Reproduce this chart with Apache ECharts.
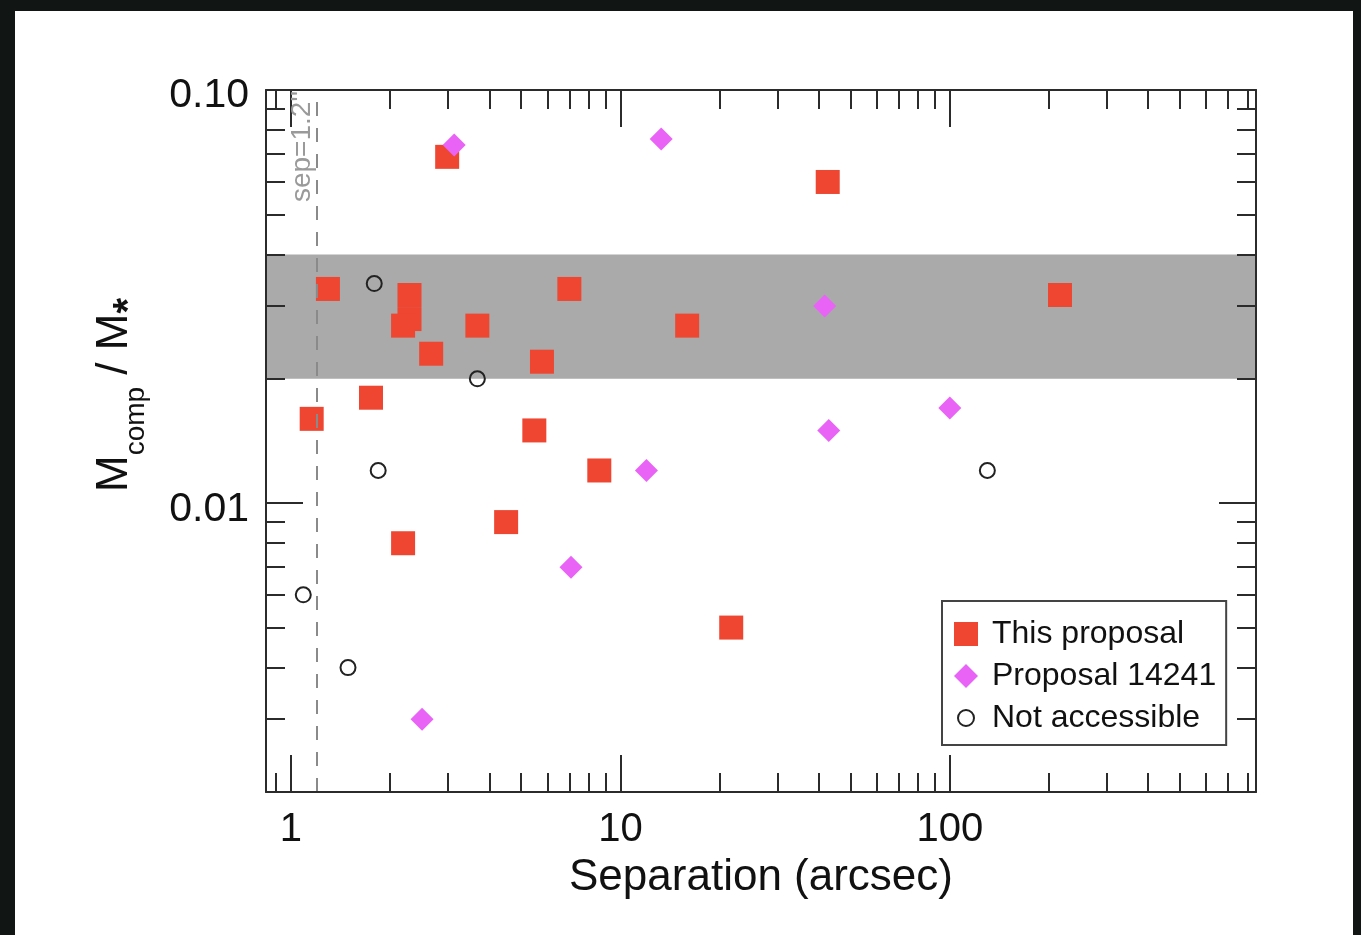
<!DOCTYPE html>
<html>
<head>
<meta charset="utf-8">
<script src="https://cdn.jsdelivr.net/npm/echarts@6/dist/echarts.min.js"></script>
<style>
  html, body { margin: 0; padding: 0; background: #111614; width: 1361px; height: 935px; overflow: hidden; }
  #chart { position: absolute; left: 15px; top: 11px; width: 1338px; height: 924px; background: #fff; }
</style>
</head>
<body>
<div id="chart"></div>
<script>
// data
const thisSep = [2.98, 42.6, 1.295, 2.29, 2.29, 2.19, 3.68, 2.665, 5.78, 7.0, 15.95, 216, 1.75, 1.156, 5.48, 8.63, 4.50, 2.19, 21.7]
const thisMass = [0.0689, 0.0599, 0.0330, 0.0319, 0.0279, 0.0269, 0.0269, 0.0230, 0.0220, 0.0330, 0.0269, 0.0319, 0.0180, 0.0160, 0.0150, 0.0120, 0.0090, 0.0080, 0.0050]

const propSep = [3.13, 13.3, 41.7, 100, 42.9, 12.0, 7.08, 2.50]
const propMass = [0.0736, 0.0761, 0.0300, 0.0170, 0.0150, 0.0120, 0.0070, 0.0030]

const naSep = [1.79, 3.68, 1.84, 130, 1.09, 1.49]
const naMass = [0.0340, 0.0200, 0.0120, 0.0120, 0.0060, 0.0040]

const bandRange = [0.02, 0.04]
const sepLimit = 1.2

const xMajor = [1, 10, 100]
const xMinor = [0.9, 2, 3, 4, 5, 6, 7, 8, 9, 20, 30, 40, 50, 60, 70, 80, 90, 200, 300, 400, 500, 600, 700, 800]
const yMajor = [0.01, 0.1]
const yMinor = [0.002, 0.003, 0.004, 0.005, 0.006, 0.007, 0.008, 0.009, 0.02, 0.03, 0.04, 0.05, 0.06, 0.07, 0.08, 0.09]

const xRange = [0.84, 850]
const yRange = [0.002, 0.1]

const FONT = '"Liberation Sans", Arial, Helvetica, sans-serif'
const AXIS_COLOR = '#2b2b2b'

const pairs = (xs, ys) => xs.map((x, i) => [x, ys[i]])

// one axis instance per side and tick length
const makeAxis = (dim, position, ticks, len, withLine, labels) => {
  const range = dim === 'x' ? xRange : yRange
  return {
    type: 'log',
    logBase: 10,
    position: position,
    min: range[0],
    max: range[1],
    z: 5,
    splitLine: { show: false },
    minorTick: { show: false },
    axisLine: { show: withLine, onZero: false, lineStyle: { color: AXIS_COLOR, width: 2 } },
    axisTick: {
      show: true,
      inside: true,
      length: len,
      customValues: ticks,
      lineStyle: { color: AXIS_COLOR, width: 2 }
    },
    axisLabel: labels
      ? Object.assign({ show: true, fontFamily: FONT, color: '#111' }, labels)
      : { show: false }
  }
}

const chart = echarts.init(document.getElementById('chart'))

const option = {
  backgroundColor: '#fff',
  animation: false,
  grid: { left: 251, right: 97, top: 79, bottom: 143 },
  xAxis: [
    Object.assign(makeAxis('x', 'bottom', xMajor, 37, true, {
      customValues: xMajor,
      fontSize: 40,
      margin: 18,
      formatter: v => String(Math.round(v))
    }), {
      name: 'Separation (arcsec)',
      nameLocation: 'middle',
      nameGap: 64,
      nameTextStyle: { fontFamily: FONT, fontSize: 44, color: '#111' }
    }),
    makeAxis('x', 'bottom', xMinor, 19, false),
    makeAxis('x', 'top', xMajor, 37, true),
    makeAxis('x', 'top', xMinor, 19, false)
  ],
  yAxis: [
    Object.assign(makeAxis('y', 'left', yMajor, 37, true, {
      customValues: yMajor,
      fontSize: 41,
      margin: 17,
      verticalAlign: 'top',
      lineHeight: 12,
      formatter: v => v.toFixed(2)
    }), {
      name: 'M{sub|comp} / M{ast|*}',
      nameLocation: 'middle',
      nameRotate: 90,
      nameGap: 116,
      nameTextStyle: {
        fontFamily: FONT,
        fontSize: 44,
        lineHeight: 70,
        color: '#111',
        padding: [0, 0, 0, 92],
        rich: {
          sub: { fontFamily: FONT, fontSize: 28, color: '#111', verticalAlign: 'bottom', lineHeight: 30 },
          ast: { fontFamily: FONT, fontSize: 40, fontWeight: 'bold', color: '#111', verticalAlign: 'bottom', lineHeight: 40 }
        }
      }
    }),
    makeAxis('y', 'left', yMinor, 19, false),
    makeAxis('y', 'right', yMajor, 37, true),
    makeAxis('y', 'right', yMinor, 19, false)
  ],
  legend: {
    orient: 'vertical',
    left: 927,
    top: 590,
    padding: [17, 10, 11, 11],
    itemGap: 10,
    itemWidth: 24,
    itemHeight: 24,
    backgroundColor: '#fff',
    borderColor: '#444',
    borderWidth: 2,
    borderRadius: 0,
    textStyle: { fontFamily: FONT, fontSize: 32, color: '#111', lineHeight: 30, padding: [0, 0, 0, 9] },
    data: [
      { name: 'This proposal', icon: 'rect' },
      { name: 'Proposal 14241', icon: 'diamond' },
      { name: 'Not accessible', icon: 'path://M0,0M24,24M20,12A8,8,0,1,1,4,12A8,8,0,1,1,20,12Z' }
    ]
  },
  series: [
    {
      // shaded band and the separation limit
      name: 'guides',
      type: 'scatter',
      data: [],
      z: 1,
      silent: true,
      markArea: {
        silent: true,
        itemStyle: { color: '#aaaaaa', opacity: 1 },
        data: [[{ yAxis: bandRange[0] }, { yAxis: bandRange[1] }]]
      },
      markLine: {
        silent: true,
        symbol: ['none', 'none'],
        lineStyle: { color: '#8a8a8a', width: 2, type: [14, 12] },
        label: {
          show: true,
          position: 'insideEndTop',
          formatter: 'sep=1.2\'\'',
          fontFamily: FONT,
          fontSize: 28,
          color: '#9a9a9a',
          distance: 1
        },
        data: [{ xAxis: sepLimit }]
      }
    },
    {
      name: 'This proposal',
      type: 'scatter',
      symbol: 'rect',
      symbolSize: 24,
      z: 3,
      itemStyle: { color: '#ee4630', opacity: 1 },
      data: pairs(thisSep, thisMass)
    },
    {
      name: 'Proposal 14241',
      type: 'scatter',
      symbol: 'diamond',
      symbolSize: 23,
      z: 3,
      itemStyle: { color: '#e863f6', opacity: 1 },
      data: pairs(propSep, propMass)
    },
    {
      name: 'Not accessible',
      type: 'scatter',
      symbol: 'circle',
      symbolSize: 15,
      z: 3,
      itemStyle: { color: 'rgba(0,0,0,0)', borderColor: '#222', borderWidth: 2, opacity: 1 },
      data: pairs(naSep, naMass)
    }
  ]
}

chart.setOption(option)
</script>
</body>
</html>
